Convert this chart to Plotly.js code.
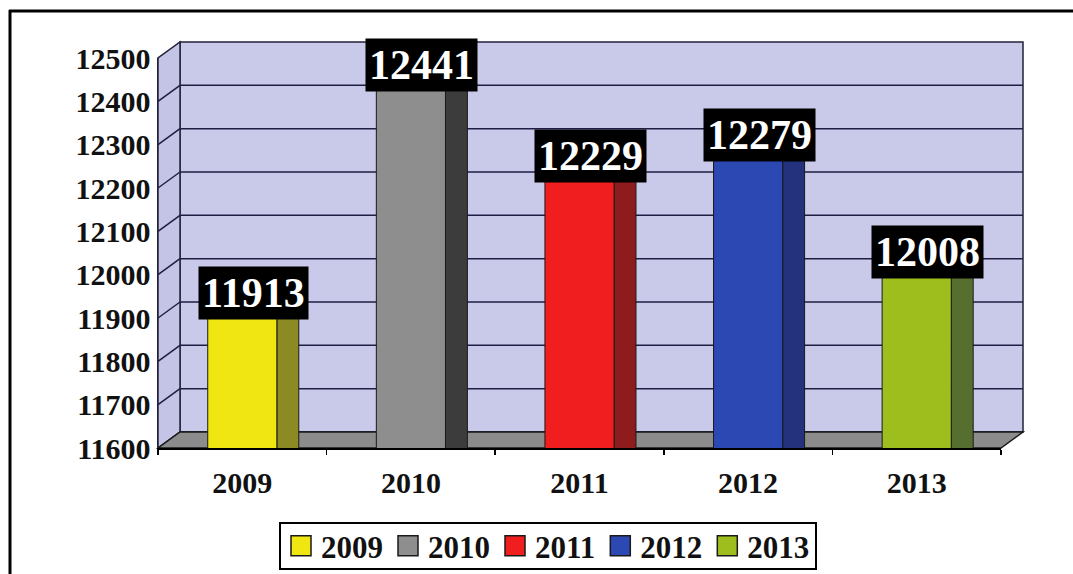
<!DOCTYPE html>
<html>
<head>
<meta charset="utf-8">
<script src="https://cdn.plot.ly/plotly-3.0.1.min.js"></script>
<style>
  html, body { margin: 0; padding: 0; background: #ffffff; }
  #chart { width: 1073px; height: 574px; }
</style>
</head>
<body>
<div id="chart"></div>
<script>
// ---- data ----
const years = ["2009", "2010", "2011", "2012", "2013"];
const values = [11913, 12441, 12229, 12279, 12008];
const frontColors = ["#f0e612", "#8e8e8e", "#f01e1e", "#2c48b2", "#9dbe1c"];
const sideColors = ["#8c8a22", "#3c3c3c", "#8e1c1c", "#24317c", "#566f2e"];
const yTicks = [11600, 11700, 11800, 11900, 12000, 12100, 12200, 12300, 12400, 12500];

// ---- geometry (pixels) ----
const W = 1073, H = 574;
const L = 158, R = 1001, T = 58, B = 448;   // front plot frame
const DX = 22, DY = 16;                     // 3D depth offset
const pw = R - L, ph = B - T;
const px = v => (v - L) / pw;   // pixel -> paper x
const py = v => (B - v) / ph;   // pixel -> paper y
const FONT = "Liberation Serif, Times New Roman, serif";
const pos = years.map((_, i) => i);   // category slots

const traces = [];
// side (depth) faces
years.forEach((yr, i) => {
  traces.push({
    type: "bar", x: [pos[i]], y: [values[i]],
    width: 0.13, offset: 0.205,
    marker: { color: sideColors[i], line: { color: "#1a1a1a", width: 1 } },
    showlegend: false, hoverinfo: "skip"
  });
});
// front faces
years.forEach((yr, i) => {
  traces.push({
    type: "bar", x: [pos[i]], y: [values[i]], name: yr,
    width: 0.41, offset: -0.205,
    marker: { color: frontColors[i], line: { color: "#1a1a1a", width: 1 } },
    showlegend: true
  });
});

const shapes = [];
// back wall
shapes.push({ type: "rect", layer: "below", xref: "paper", yref: "paper",
  x0: px(L + DX), x1: px(R + DX), y0: py(B - DY), y1: py(T - DY),
  fillcolor: "#c9c9ea", line: { color: "#22223a", width: 1.5 } });
// left wall
shapes.push({ type: "path", layer: "below", xref: "paper", yref: "paper",
  path: `M ${px(L)} ${py(B)} L ${px(L + DX)} ${py(B - DY)} L ${px(L + DX)} ${py(T - DY)} L ${px(L)} ${py(T)} Z`,
  fillcolor: "#c4c4e6", line: { color: "#22223a", width: 1.5 } });
// gridlines on back wall + slanted lines on left wall
yTicks.forEach(t => {
  shapes.push({ type: "line", layer: "below", xref: "paper", yref: "y",
    ysizemode: "pixel", yanchor: t, x0: px(L + DX), x1: px(R + DX), y0: DY, y1: DY,
    line: { color: "#1e1e44", width: 1.5 } });
  shapes.push({ type: "line", layer: "below", xref: "paper", yref: "y",
    ysizemode: "pixel", yanchor: t, x0: 0, x1: px(L + DX), y0: 0, y1: DY,
    line: { color: "#1e1e44", width: 1.5 } });
});
// floor
shapes.push({ type: "path", layer: "below", xref: "paper", yref: "paper",
  path: `M ${px(L)} ${py(B)} L ${px(L + DX)} ${py(B - DY)} L ${px(R + DX)} ${py(B - DY)} L ${px(R)} ${py(B)} Z`,
  fillcolor: "#8c8c8c", line: { color: "#1a1a1a", width: 1.5 } });
// outer frame (left and top)
shapes.push({ type: "line", layer: "above", xref: "paper", yref: "paper",
  x0: px(10), x1: px(10), y0: py(10), y1: py(H + 5), line: { color: "#000", width: 3 } });
shapes.push({ type: "line", layer: "above", xref: "paper", yref: "paper",
  x0: px(9), x1: px(W + 5), y0: py(11), y1: py(11), line: { color: "#000", width: 3 } });

const annotations = years.map((yr, i) => ({
  x: pos[i], y: values[i], xref: "x", yref: "y",
  text: String(values[i]), showarrow: false,
  xanchor: "center", yanchor: "bottom", xshift: 11, yshift: -8,
  bgcolor: "#000000", borderpad: 3,
  font: { family: FONT, size: 42, color: "#ffffff", weight: "bold" }
}));

const layout = {
  width: W, height: H,
  margin: { l: L, r: W - R, t: T, b: H - B, pad: 0, autoexpand: false },
  paper_bgcolor: "#ffffff", plot_bgcolor: "rgba(0,0,0,0)",
  barmode: "overlay", bargap: 0,
  showlegend: true,
  xaxis: {
    range: [-0.5, years.length - 0.5],
    tickvals: pos, ticktext: years,
    showgrid: false, zeroline: false,
    showline: true, linecolor: "#000", linewidth: 1.5,
    ticks: "", ticklabelstandoff: 7,
    minor: { tick0: -0.5, dtick: 1, ticks: "outside", ticklen: 5, tickcolor: "#000", tickwidth: 1.5, showgrid: false },
    tickfont: { family: FONT, size: 30, color: "#111", weight: "bold" },
    fixedrange: true, automargin: false
  },
  yaxis: {
    range: [11600, 12500], tickvals: yTicks, ticktext: yTicks.map(String),
    showgrid: false, zeroline: false,
    showline: true, linecolor: "#22223a", linewidth: 1.5,
    ticks: "", ticklabelstandoff: 0,
    tickfont: { family: FONT, size: 30, color: "#111", weight: "bold" },
    fixedrange: true, automargin: false
  },
  legend: {
    orientation: "h", x: px(548), xanchor: "center", y: py(500), yanchor: "top",
    bordercolor: "#000", borderwidth: 2, bgcolor: "#fff",
    font: { family: FONT, size: 31, color: "#111", weight: "bold" },
    itemwidth: 30,
    itemclick: false, itemdoubleclick: false
  },
  shapes: shapes,
  annotations: annotations
};

Plotly.newPlot("chart", traces, layout, { staticPlot: true, displayModeBar: false }).then(() => {
  document.querySelectorAll(".legendpoints path").forEach(p => {
    p.setAttribute("d", "M10,10H-10V-10H10Z");
    p.style.strokeWidth = "1.5px";
    p.style.stroke = "#1a1a1a";
  });
  // tighten the legend box to the reference's height and centre it at y = 546
  const leg = document.querySelector("g.legend");
  const bg = leg && leg.querySelector("rect.bg");
  if (leg && bg) {
    const target = 46;
    const h = parseFloat(bg.getAttribute("height"));
    const y0 = parseFloat(bg.getAttribute("y") || 0);
    bg.setAttribute("y", y0 + (h - target) / 2);
    bg.setAttribute("height", target);
    const box = bg.getBoundingClientRect();
    const svgBox = document.querySelector("#chart svg.main-svg").getBoundingClientRect();
    const centre = box.top - svgBox.top + box.height / 2;
    const shift = 546 - centre;
    const m = /translate\(\s*([-\d.]+)[ ,]+([-\d.]+)\s*\)/.exec(leg.getAttribute("transform") || "");
    if (m) leg.setAttribute("transform", `translate(${m[1]},${parseFloat(m[2]) + shift})`);
  }
});
</script>
</body>
</html>
